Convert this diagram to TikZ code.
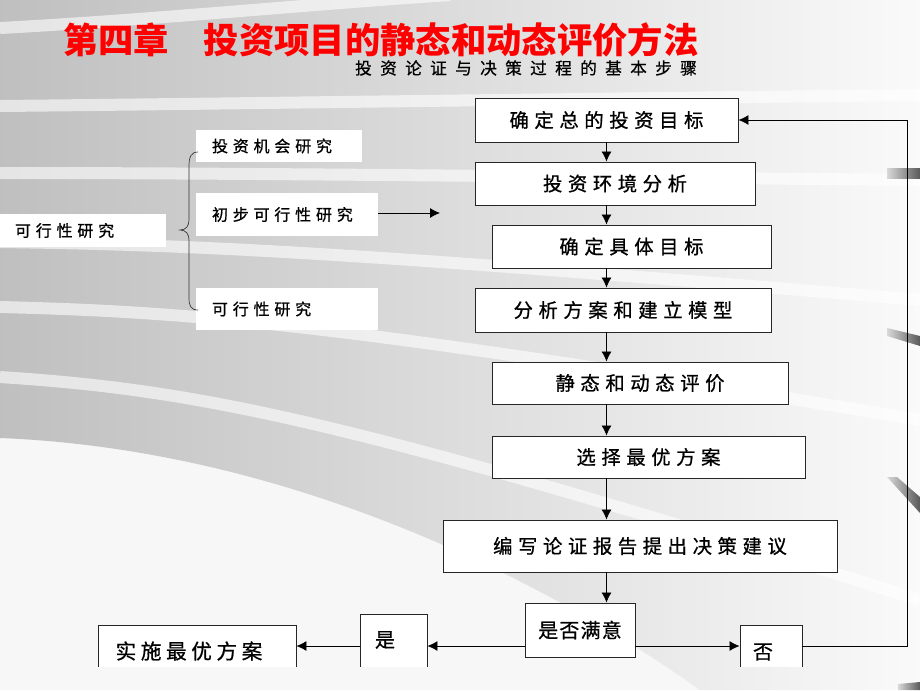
\documentclass[tikz,border=0pt]{standalone}
\usepackage{fontspec}
\setmainfont{Noto Sans CJK SC}
\newfontfamily\stepfont[LetterSpace=29, FakeBold=0.8]{Noto Sans CJK SC}
\newfontfamily\sidefont[LetterSpace=30, FakeBold=0.8]{Noto Sans CJK SC}
\newfontfamily\endfont[LetterSpace=6, FakeBold=0.8]{Noto Sans CJK SC}
\newfontfamily\implfont[LetterSpace=22, FakeBold=0.8]{Noto Sans CJK SC}
\newfontfamily\plainfont[FakeBold=0.8]{Noto Sans CJK SC}
\newfontfamily\subfont[LetterSpace=50, FakeBold=0.6]{Noto Sans CJK SC}
\usetikzlibrary{arrows.meta}

\begin{document}
\begin{tikzpicture}[x=0.75pt, y=-0.75pt,
  flowbox/.style={draw=black!85, line width=0.7pt, fill=white, inner sep=0pt,
    font=\stepfont\fontsize{14.5}{17}\selectfont},
  sized/.style 2 args={minimum width=#1*0.75pt, minimum height=#2*0.75pt},
  sidebox/.style={fill=white, inner ysep=0pt, inner xsep=12pt, align=left,
    font=\sidefont\fontsize{12}{14}\selectfont},
  flowarrow/.style={-{Latex[length=7.5pt,width=7.5pt]}, line width=0.6pt},
  stripe/.style={white, opacity=0.6, line width=9pt},
  edgemark/.style={left color=black!15, right color=black!65}]
\useasboundingbox (0,0) rectangle (920,690);

% background
\fill[black!3] (0,0) rectangle (920,690);
\shade[left color=black!25, middle color=black!14, right color=black!2]
  (0,0) -- (920,0) -- (920,690) -- (700,690)
  .. controls (560,590) and (300,450) .. (0,438) -- cycle;
\draw[stripe] (0,28) .. controls (150,20) and (300,5) .. (450,-5);
\draw[stripe] (0,106) .. controls (200,104) and (400,101) .. (920,95);
\draw[stripe] (0,173) .. controls (200,173) and (400,175) .. (920,180);
\draw[stripe] (0,242) .. controls (200,245) and (350,252) .. (920,300);
\draw[stripe] (0,307) .. controls (200,312) and (350,325) .. (920,420);
\draw[stripe] (0,377) .. controls (200,390) and (350,420) .. (920,600);
\shade[edgemark] (887,168) rectangle (920,178);
\shade[edgemark] (887,328) -- (920,336) -- (920,346) -- (887,336) -- cycle;
\shade[edgemark] (887,477) -- (897,477) -- (920,497) -- (920,513) -- cycle;
\shade[edgemark] (898,684) -- (920,682) -- (920,690) -- (898,690) -- cycle;

% titles
\node[text=red, anchor=west, inner sep=0pt,
  font=\fontsize{26.5}{30}\selectfont\bfseries] (title) at (63,40)
  {第四章\hspace{26pt}投资项目的静态和动态评价方法};
\node[font=\subfont\fontsize{12.5}{15}\selectfont] (subtitle) at (526,68)
  {投资论证与决策过程的基本步骤};

% main steps
\node[flowbox, sized={263}{44}] (goal) at (606.5,120) {确定总的投资目标};
\node[flowbox, sized={280}{43}] (env) at (615,183.5) {投资环境分析};
\node[flowbox, sized={279}{43}] (target) at (631.5,246.5) {确定具体目标};
\node[flowbox, sized={296}{44}] (model) at (623,310) {分析方案和建立模型};
\node[flowbox, sized={296}{42}] (eval) at (640,383) {静态和动态评价};
\node[flowbox, sized={313}{42}] (choose) at (648.5,457) {选择最优方案};
\node[flowbox, sized={394}{52}] (report) at (640,546) {编写论证报告提出决策建议};
\node[flowbox, sized={110}{54}, font=\endfont\fontsize{15}{18}\selectfont]
  (ok) at (580,630) {是否满意};

\begin{scope}
\clip (0,0) rectangle (920,666);
\node[flowbox, sized={67}{76}] (yes) at (393.5,652) {};
\node[flowbox, sized={198}{75}] (impl) at (197,662.5) {};
\node[flowbox, sized={62}{75}] (no) at (771,662.5) {};
\end{scope}
\node[font=\plainfont\fontsize{15}{18}\selectfont] (yes-t) at (385,640) {是};
\node[font=\implfont\fontsize{15.5}{18}\selectfont] (impl-t) at (189,651) {实施最优方案};
\node[font=\plainfont\fontsize{15}{18}\selectfont] (no-t) at (763,652) {否};

\draw[flowarrow] (goal.south) -- (goal.south |- env.north);
\draw[flowarrow] (goal.south |- env.south) -- (goal.south |- target.north);
\draw[flowarrow] (goal.south |- target.south) -- (goal.south |- model.north);
\draw[flowarrow] (goal.south |- model.south) -- (goal.south |- eval.north);
\draw[flowarrow] (goal.south |- eval.south) -- (goal.south |- choose.north);
\draw[flowarrow] (goal.south |- choose.south) -- (goal.south |- report.north);
\draw[flowarrow] (goal.south |- report.south) -- (goal.south |- ok.north);

\coordinate (ya) at (0,646);
\coordinate (rt) at (907,646);
\draw[flowarrow] (ok.west |- ya) -- (yes.east |- ya);
\draw[flowarrow] (yes.west |- ya) -- (impl.east |- ya);
\draw[flowarrow] (ok.east |- ya) -- (no.west |- ya);
\draw[flowarrow] (no.east |- ya) -- (rt) |- (goal.east);

% feasibility study
\node[sidebox, text width=101.25pt, minimum height=33*0.75pt] (feas) at (82.5,230.5) {可行性研究};
\node[sidebox, text width=100.5pt, minimum height=32*0.75pt] (opp) at (279,146) {投资机会研究};
\node[sidebox, text width=112.5pt, minimum height=43*0.75pt] (pre) at (287,214.5) {初步可行性研究};
\node[sidebox, text width=112.5pt, minimum height=42*0.75pt] (full) at (287,309) {可行性研究};
\draw[black!80, line width=0.5pt] (198,152) .. controls (191,152) and (189,157) .. (189,166)
  -- (189,220) .. controls (189,226) and (186,230) .. (180,230)
  .. controls (186,230) and (189,234) .. (189,240)
  -- (189,298) .. controls (189,306) and (191,310) .. (198,310);
\coordinate (pre-end) at (440,213);
\draw[flowarrow] (pre.east |- pre-end) -- (pre-end);
\end{tikzpicture}
\end{document}
